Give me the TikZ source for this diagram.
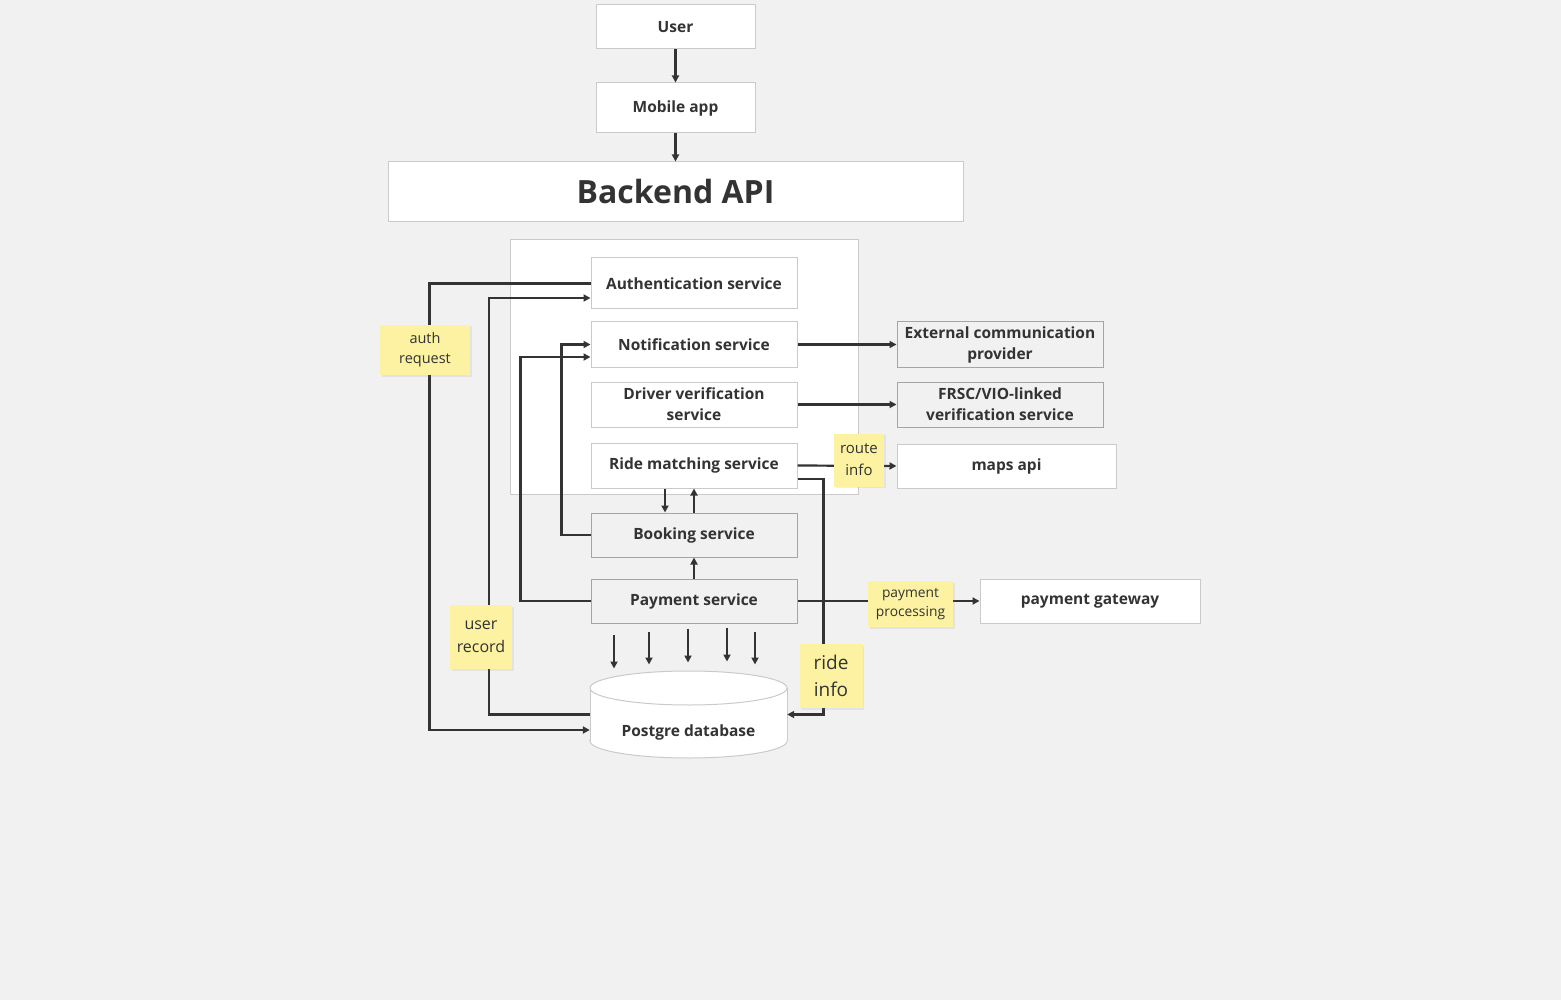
\documentclass[tikz,border=0pt]{standalone}
\usepackage{fontspec}
\setmainfont{Open Sans}
\usetikzlibrary{arrows.meta,shadows}
\definecolor{bgcol}{HTML}{F1F1F1}
\definecolor{ink}{HTML}{333333}
\definecolor{rim}{HTML}{CACACA}
\definecolor{rimdark}{HTML}{A5A5A5}
\definecolor{sticky}{HTML}{FCF2A1}
\begin{document}
\begin{tikzpicture}[x=1pt,y=-1pt,every node/.style={text=ink},
  box/.style={draw=rim,fill=white,line width=1pt,inner sep=0pt,align=center,font=\bfseries\fontsize{15.5}{21}\selectfont},
  greybox/.style={box,draw=rimdark,fill=bgcol},
  svc/.style={minimum width=206pt,minimum height=45pt},
  note/.style={fill=sticky,inner sep=0pt,align=center,drop shadow={opacity=0.12,shadow xshift=1.5pt,shadow yshift=-1.5pt}},
  arr/.style={draw=ink,line width=2.2pt,-{Triangle[length=7pt,width=7pt]}}]
\fill[bgcol] (0,0) rectangle (1561,1000);
\useasboundingbox (0,0) rectangle (1561,1000);
% client side
\node[box,minimum width=159pt,minimum height=44pt] (user) at (675.5,27) {User};
\node[box,minimum width=159pt,minimum height=50pt] (app) at (675.5,108) {Mobile app};
\node[box,minimum width=575pt,minimum height=60pt,font=\bfseries\fontsize{32}{38}\selectfont] (api) at (675.5,192) {Backend API};
% services inside the backend
\node[draw=rim,fill=white,line width=1pt,minimum width=348pt,minimum height=254pt,inner sep=0pt] (core) at (684,367) {};
\node[box,svc,minimum height=51pt] (auth) at (694,283.5) {Authentication service};
\node[box,svc] (notif) at (694,344.5) {Notification service};
\node[box,svc] (drv) at (694,404.5) {Driver verification\\service};
\node[box,svc] (ride) at (694,465.5) {Ride matching service};
\node[greybox,svc,minimum height=44pt] (book) at (694,535) {Booking service};
\node[greybox,svc,minimum height=44pt] (pay) at (694,601) {Payment service};
% third parties
\node[greybox,svc] (ext) at (1000,344.5) {External communication\\provider};
\node[greybox,svc] (frsc) at (1000,404.5) {FRSC/VIO-linked\\verification service};
\node[box,minimum width=219pt,minimum height=44pt] (maps) at (1006.5,466) {maps api};
\node[box,minimum width=220pt,minimum height=44pt] (gate) at (1090,601) {payment gateway};
% database cylinder
\filldraw[fill=white,draw=rim,line width=1pt] (688.5,741) ellipse [x radius=98.5,y radius=17];
\fill[white] (590,688) rectangle (787,741);
\draw[rim,line width=1pt] (590,688) -- (590,741) (787,688) -- (787,741);
\filldraw[fill=white,draw=rim,line width=1pt] (688.5,688) ellipse [x radius=98.5,y radius=17];
\node[minimum width=197pt,minimum height=87pt,inner sep=0pt] (db) at (688.5,714.5) {};
\node[font=\bfseries\fontsize{15.5}{21}\selectfont] (dblabel) at ([yshift=-17.5pt]db.center) {Postgre database};
% connectors
\draw[arr] (user) -- (app);
\draw[arr] (app) -- (api);
\draw[arr] (auth.west) -- ++(-161,0) |- ([yshift=-15.5pt]db.west);
\draw[arr] (db.west) -- ++(-101,0) |- ([yshift=-14.5pt]auth.west);
\draw[arr] (book.west) -- ++(-29,0) |- (notif.west);
\draw[arr] (pay.west) -- ++(-70,0) |- ([yshift=-12.5pt]notif.west);
\draw[arr] ([xshift=-29pt]ride.south) -- ([xshift=-29pt]book.north);
\draw[arr] (book.north) -- (ride.south);
\draw[arr] (pay.north) -- (book.south);
\draw[arr] ([yshift=-13.5pt]ride.east) -- ++(26,0) |- (db.east);
\draw[arr] (ride.east) -- (maps.west);
\draw[arr] (notif.east) -- (ext.west);
\draw[arr] (drv.east) -- (frsc.west);
\draw[arr] (pay.east) -- (gate.west);
\foreach \dx/\dy/\len in {-80/11/34,-45/8/33,-6/5/34,33/4/34,61/8/33}
  \draw[arr] ([xshift=\dx pt,yshift=-\dy pt]pay.south) -- ++(0,\len);
% sticky notes
\node[note,minimum width=90pt,minimum height=50pt,font=\fontsize{14.5}{20}\selectfont] (nauth) at (425,350) {auth\\request};
\node[note,minimum width=62pt,minimum height=64pt,font=\fontsize{16}{23}\selectfont] (nuser) at (481,637) {user\\record};
\node[note,minimum width=63pt,minimum height=64pt,font=\fontsize{19}{27}\selectfont] (nride) at (831,676) {ride\\info};
\node[note,minimum width=50pt,minimum height=53pt,font=\fontsize{15}{22}\selectfont] (nroute) at (859,460) {route\\info};
\node[note,minimum width=85pt,minimum height=46pt,font=\fontsize{13.8}{19}\selectfont] (npay) at (910.5,604) {payment\\processing};
\end{tikzpicture}
\end{document}
